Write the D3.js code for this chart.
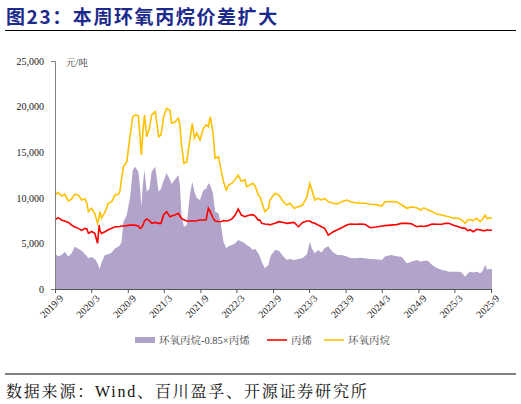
<!DOCTYPE html>
<html>
<head>
<meta charset="utf-8">
<script src="https://cdn.jsdelivr.net/npm/d3@7"></script>
<style>
  body { margin: 0; background: #fff; }
  svg { display: block; }
</style>
</head>
<body>
<svg id="chart"></svg>
<script>
const width = 521;
const height = 404;

// data (yuan / ton)
const dates = [
  '2019-09-01','2019-09-16','2019-10-04','2019-10-20','2019-11-07','2019-11-23','2019-12-10','2019-12-27',
  '2020-01-13','2020-01-30','2020-02-08','2020-02-16','2020-03-03','2020-03-19','2020-04-02','2020-04-10',
  '2020-04-14','2020-04-22','2020-05-09','2020-05-26','2020-06-12','2020-06-29','2020-07-15','2020-07-23',
  '2020-08-01','2020-08-10','2020-08-27','2020-09-13','2020-09-26','2020-10-08','2020-10-24','2020-11-02',
  '2020-11-08','2020-11-16','2020-11-24','2020-12-05','2020-12-19','2020-12-30','2021-01-17','2021-02-03',
  '2021-02-15','2021-02-28','2021-03-15','2021-04-01','2021-04-09','2021-04-26','2021-05-13','2021-05-21',
  '2021-05-29','2021-06-10','2021-06-24','2021-07-10','2021-07-22','2021-08-02','2021-08-13','2021-08-30',
  '2021-09-16','2021-09-30','2021-10-11','2021-10-20','2021-11-03','2021-11-14','2021-12-01','2021-12-12',
  '2021-12-26','2022-01-09','2022-01-20','2022-02-07','2022-02-23','2022-03-10','2022-03-26','2022-04-13',
  '2022-04-21','2022-05-08','2022-05-22','2022-06-03','2022-06-19','2022-06-27','2022-07-06','2022-07-22',
  '2022-08-09','2022-08-17','2022-08-25','2022-09-12','2022-10-01','2022-10-23','2022-11-10','2022-11-26',
  '2022-12-16','2023-01-07','2023-01-28','2023-02-19','2023-03-05','2023-03-16','2023-03-30','2023-04-16',
  '2023-05-03','2023-05-19','2023-06-06','2023-06-19','2023-07-01','2023-07-22','2023-08-12','2023-09-07',
  '2023-09-24','2023-10-19','2023-11-13','2023-12-07','2024-01-03','2024-02-01','2024-03-01','2024-03-17',
  '2024-04-16','2024-05-15','2024-06-10','2024-07-05','2024-07-28','2024-08-24','2024-09-13','2024-09-27',
  '2024-10-19','2024-11-09','2024-12-04','2024-12-28','2025-01-16','2025-02-01','2025-02-25','2025-03-21',
  '2025-04-07','2025-04-24','2025-05-07','2025-05-19','2025-06-04','2025-06-22','2025-07-09','2025-07-22',
  '2025-08-03','2025-08-13','2025-08-25','2025-09-06'
];

const poPrice = [
  10300,10600,10200,10380,9650,9860,10380,10300,
  9760,9900,9400,8480,8850,8300,7200,7900,
  8480,7780,8400,9400,9570,10300,10380,10670,
  12140,13400,13960,16890,18900,19080,19000,16520,
  14690,17250,19080,16700,17620,19080,19440,16700,
  16890,18900,19810,19600,18170,18300,18720,17990,
  15790,13780,13900,16340,18170,16520,17100,16340,
  17620,17990,17800,18900,17260,14330,14500,13230,
  11770,10860,11400,11600,12000,12500,11800,12000,
  11220,11400,11590,11300,10300,10120,9570,8480,
  8850,9760,10000,10490,10300,9570,9210,9400,
  8850,9030,9210,10120,11590,10860,9760,9940,
  9760,9940,9570,9500,9400,9330,9570,9760,
  9600,9450,9400,9400,9300,9250,9100,9570,
  9600,9570,9210,8850,9000,8900,8660,8900,
  8700,8480,8200,8110,8000,7930,7750,7750,
  7560,7200,7560,7620,7500,7750,7380,7700,
  8110,7700,7800,7750
];

const propylenePrice = [
  7570,7820,7570,7460,7300,7020,6800,6650,
  6430,6650,6600,6100,6300,6100,5010,7000,
  6400,6100,6280,6500,6650,6830,6830,6850,
  6900,6900,6950,7020,7000,7000,6900,6650,
  6700,7000,7460,7680,7500,7200,7300,7200,
  7200,8150,8480,7930,8000,8110,8300,8000,
  7750,7600,7460,7460,7460,7460,7480,7560,
  7560,7600,8850,8500,7800,7460,7400,7380,
  7500,7450,7500,7700,8110,8770,8110,7930,
  8000,8110,8150,8000,7560,7570,7200,7130,
  7090,7020,7090,7200,7380,7300,7200,7250,
  7300,6830,7300,7460,7460,7300,7200,7020,
  6830,6650,5920,6100,6280,6500,6720,7020,
  7130,7100,7130,7100,6720,6800,6900,6950,
  7000,7060,7200,7200,7150,6830,6900,6850,
  6950,7130,7100,7100,7200,7200,7000,6830,
  6700,6650,6400,6500,6280,6550,6470,6400,
  6400,6500,6450,6450
];

const spread = [
  3910,3550,3730,4090,3550,3900,4640,4400,
  4200,3800,3600,3360,3500,3300,2810,2300,
  2270,2900,3730,3800,4000,4460,4640,4800,
  5190,7380,8110,10120,13050,13410,12870,11040,
  9000,11500,13050,10670,11000,12870,13410,10670,
  11000,11900,12690,12000,11500,12000,12500,11400,
  8110,6830,7000,10300,11770,10670,10000,9760,
  10860,11000,11590,11400,10500,8480,8300,7200,
  5190,4460,4700,4820,5010,5370,5200,5010,
  4800,4640,4280,4400,3910,3550,3000,2270,
  2630,3400,3800,4280,4200,3550,3180,3300,
  3180,3300,3400,3800,5190,4400,3910,4280,
  4000,4500,4680,4300,4000,3730,3730,3550,
  3400,3370,3420,3370,3300,3250,3180,3550,
  3730,3600,3500,2820,3000,3180,3000,3100,
  3100,2630,2300,2080,2000,1900,1900,1900,
  1800,1350,1700,1900,1800,1900,1720,2000,
  2630,2100,2200,2200
];

const yTicks = [0, 5000, 10000, 15000, 20000, 25000];
const tickLabels = ['2019/9','2020/3','2020/9','2021/3','2021/9','2022/3','2022/9',
                    '2023/3','2023/9','2024/3','2024/9','2025/3','2025/9'];
const seriesNames = ['环氧丙烷-0.85×丙烯', '丙烯', '环氧丙烷'];

const parseDay = d3.timeParse('%Y-%m-%d');
const parseTick = d3.timeParse('%Y/%m');

const data = dates.map((d, i) => ({
  date: parseDay(d),
  po: poPrice[i],
  pp: propylenePrice[i],
  spread: spread[i]
}));

const svg = d3.select('#chart').attr('width', width).attr('height', height);

const serif = '"Liberation Serif", "Times New Roman", "Noto Serif CJK SC", "Noto Sans CJK SC", serif';

// title
svg.append('text')
  .attr('x', 6).attr('y', 24)
  .attr('font-family', '"Noto Sans CJK SC", sans-serif')
  .attr('font-weight', 'bold')
  .attr('font-size', 19)
  .attr('letter-spacing', 1.6)
  .attr('fill', '#1c2a8c')
  .text('图23：本周环氧丙烷价差扩大');

svg.append('line')
  .attr('x1', 5).attr('x2', 516).attr('y1', 30.5).attr('y2', 30.5)
  .attr('stroke', '#000').attr('stroke-width', 1.2);

// scales
const x = d3.scaleTime()
  .domain([parseTick('2019/9'), parseTick('2025/9')])
  .range([55, 491]);
const y = d3.scaleLinear().domain([0, 25000]).range([289, 61]);

// spread area
const area = d3.area()
  .x(d => x(d.date))
  .y0(y(0))
  .y1(d => y(d.spread));

svg.append('path')
  .datum(data)
  .attr('d', area)
  .attr('fill', '#b1a3c9');

const line = key => d3.line().x(d => x(d.date)).y(d => y(d[key]));

svg.append('path')
  .datum(data)
  .attr('d', line('pp'))
  .attr('fill', 'none')
  .attr('stroke', '#ff0000')
  .attr('stroke-width', 1.6);

svg.append('path')
  .datum(data)
  .attr('d', line('po'))
  .attr('fill', 'none')
  .attr('stroke', '#ffc000')
  .attr('stroke-width', 1.6);

// y axis
const yAxis = svg.append('g')
  .attr('transform', 'translate(55,0)')
  .call(d3.axisLeft(y).tickValues(yTicks).tickSizeInner(0).tickSizeOuter(4)
    .tickPadding(11).tickFormat(d3.format(',')));
yAxis.select('.domain').attr('stroke', '#7f7f7f');
yAxis.selectAll('text')
  .attr('font-family', serif).attr('font-size', 10).attr('fill', '#222');

svg.append('text')
  .attr('x', 66).attr('y', 66)
  .attr('font-family', serif).attr('font-size', 9.5).attr('fill', '#333')
  .text('元/吨');

// x axis
const xAxis = svg.append('g')
  .attr('transform', 'translate(0,289)')
  .call(d3.axisBottom(x).tickValues(tickLabels.map(parseTick))
    .tickSizeInner(4).tickSizeOuter(0)
    .tickFormat((d, i) => tickLabels[i]));
xAxis.selectAll('.domain, .tick line').attr('stroke', '#555');
xAxis.selectAll('text')
  .attr('font-family', serif).attr('font-size', 10).attr('fill', '#222')
  .attr('text-anchor', 'end')
  .attr('dx', '-0.1em').attr('dy', '0.6em')
  .attr('transform', 'rotate(-45)');

// legend
const legend = svg.append('g').attr('font-family', serif).attr('font-size', 10.5).attr('fill', '#444');
legend.append('rect').attr('x', 135).attr('y', 337).attr('width', 20).attr('height', 6).attr('fill', '#b1a3c9');
legend.append('text').attr('x', 159).attr('y', 344).text(seriesNames[0]);
legend.append('line').attr('x1', 267).attr('x2', 287).attr('y1', 340).attr('y2', 340)
  .attr('stroke', '#ff0000').attr('stroke-width', 1.6);
legend.append('text').attr('x', 291).attr('y', 344).text(seriesNames[1]);
legend.append('line').attr('x1', 324).attr('x2', 344).attr('y1', 340).attr('y2', 340)
  .attr('stroke', '#ffc000').attr('stroke-width', 1.6);
legend.append('text').attr('x', 348).attr('y', 344).text(seriesNames[2]);

// source
svg.append('line')
  .attr('x1', 5).attr('x2', 516).attr('y1', 374).attr('y2', 374)
  .attr('stroke', '#7f7f7f').attr('stroke-width', 2);

svg.append('text')
  .attr('x', 6).attr('y', 397)
  .attr('font-family', serif)
  .attr('font-size', 16)
  .attr('letter-spacing', 1.8)
  .attr('fill', '#111')
  .text('数据来源：Wind、百川盈孚、开源证券研究所');
</script>
</body>
</html>
